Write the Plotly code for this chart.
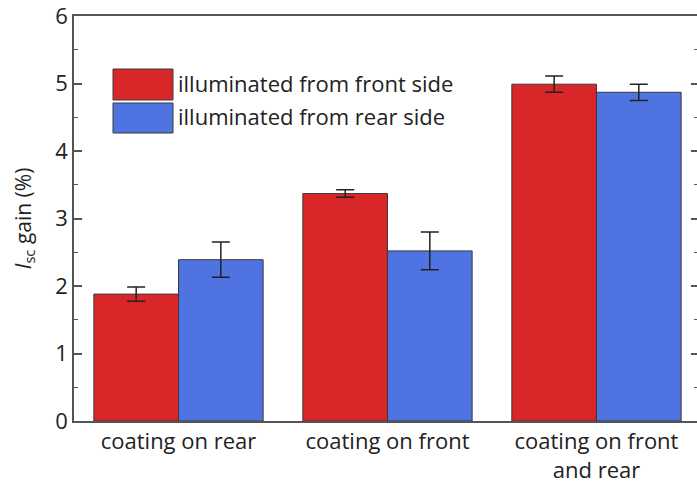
import plotly.graph_objects as go

categories = ["coating on rear", "coating on front", "coating on front<br>and rear"]
front_vals = [1.88, 3.37, 4.99]
front_err = [0.105, 0.055, 0.12]
rear_vals = [2.39, 2.52, 4.87]
rear_err = [0.26, 0.28, 0.12]
series_names = ["illuminated from front side", "illuminated from rear side"]
y_ticks = [0, 1, 2, 3, 4, 5, 6]

RED = "#D92629"
BLUE = "#5073E2"
FONT = "Open Sans"
AX = "#555555"
TXT = "#222222"
FS = 22

x = list(range(len(categories)))

fig = go.Figure()
fig.add_trace(go.Bar(
    x=x, y=front_vals, name=series_names[0], marker=dict(color=RED, line=dict(color="#3a3a3a", width=1)),
    error_y=dict(type="data", array=front_err, color=TXT, thickness=1.5, width=9),
    showlegend=False))
fig.add_trace(go.Bar(
    x=x, y=rear_vals, name=series_names[1], marker=dict(color=BLUE, line=dict(color="#3a3a3a", width=1)),
    error_y=dict(type="data", array=rear_err, color=TXT, thickness=1.5, width=9),
    showlegend=False))
# invisible trace for right axis
fig.add_trace(go.Scatter(x=[0], y=[0], yaxis="y2", mode="markers", marker=dict(opacity=0), showlegend=False, hoverinfo="skip"))

fig.update_layout(
    width=697, height=487,
    margin=dict(l=74, r=0, t=16, b=66),
    paper_bgcolor="white", plot_bgcolor="white",
    barmode="group", bargap=0.19, bargroupgap=0,
    font=dict(family=FONT, size=FS, color=TXT),
    xaxis=dict(
        tickmode="array", tickvals=x, ticktext=categories, range=[-0.5, 2.481],
        showline=True, linecolor=AX, linewidth=1.5, mirror=True,
        ticks="", showgrid=False, zeroline=False, automargin=False,
        tickfont=dict(family=FONT, size=FS, color=TXT), ticklabeloverflow="allow",
    ),
    yaxis=dict(
        range=[0, 6], tickvals=y_ticks, showline=True, linecolor=AX, linewidth=1.5,
        ticks="inside", ticklen=8, tickwidth=1.5, tickcolor=AX,
        minor=dict(dtick=0.5, ticks="inside", ticklen=4, tickwidth=1, tickcolor=AX),
        showgrid=False, zeroline=False, automargin=False, ticklabeloverflow="allow",
        tickfont=dict(family=FONT, size=FS, color=TXT),
        title=dict(text="<i>I</i><sub>sc</sub> gain (%)", font=dict(family=FONT, size=21, color=TXT), standoff=18),
    ),
    yaxis2=dict(
        range=[0, 6], overlaying="y", side="right", tickvals=y_ticks, showline=False,
        ticks="inside", ticklen=6, tickwidth=1.5, tickcolor=AX,
        minor=dict(dtick=0.5, ticks="inside", ticklen=3, tickwidth=1, tickcolor=AX),
        showticklabels=False, showgrid=False, zeroline=False, automargin=False,
    ),
)

# manual legend (large swatches), positions in page pixels
pl, pr, pt, pb = 74.0, 697.0, 16.0, 421.0
def px(xp):
    return (xp - pl) / (pr - pl)
def py(yp):
    return (pb - yp) / (pb - pt)

swatches = [(RED, 69, 100), (BLUE, 103, 133)]
for (col, y0, y1), name in zip(swatches, series_names):
    fig.add_shape(type="rect", xref="paper", yref="paper",
                  x0=px(113), x1=px(173), y0=py(y1), y1=py(y0),
                  fillcolor=col, line=dict(color="#3a3a3a", width=1))
    fig.add_annotation(xref="paper", yref="paper", x=px(176), y=py((y0 + y1) / 2 - 2),
                       text=name, showarrow=False, xanchor="left", yanchor="middle",
                       font=dict(family=FONT, size=FS, color=TXT))

fig.write_html("out.html", config={"displayModeBar": False},
               post_script="document.body.style.margin='0';document.body.style.overflow='hidden';")
